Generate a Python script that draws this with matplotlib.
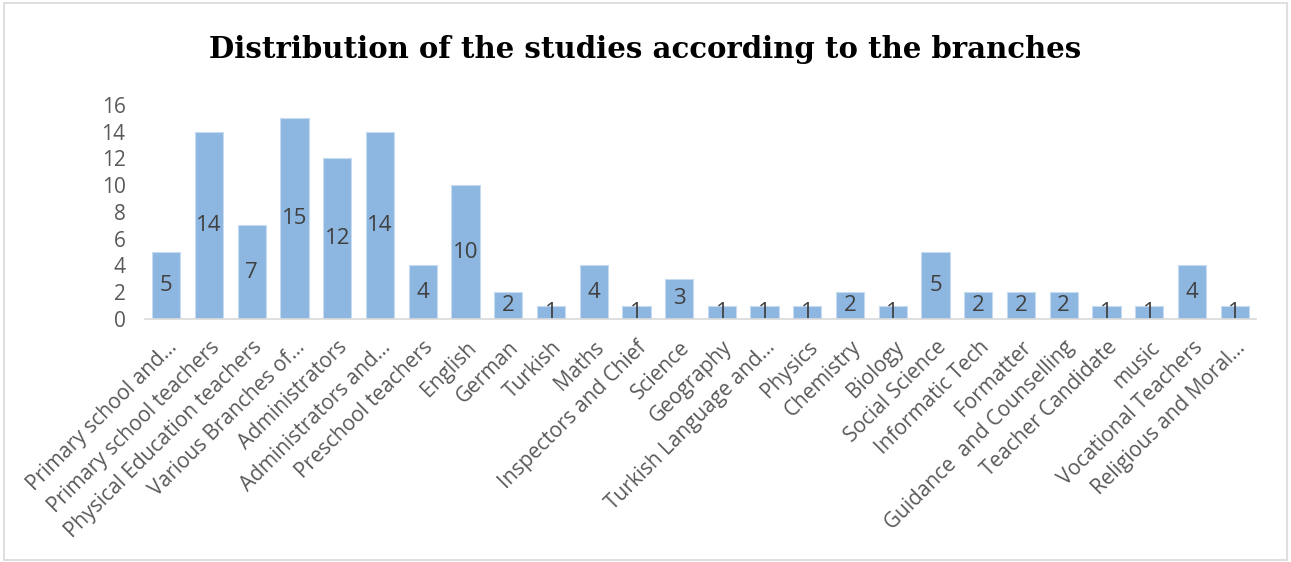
import matplotlib.pyplot as plt
from matplotlib.patches import Rectangle

branches = ["Primary school and...", "Primary school teachers", "Physical Education teachers",
            "Various Branches of...", "Administrators", "Administrators and...",
            "Preschool teachers", "English", "German", "Turkish", "Maths",
            "Inspectors and Chief", "Science", "Geography", "Turkish Language and...",
            "Physics", "Chemistry", "Biology", "Social Science", "Informatic Tech",
            "Formatter", "Guidance  and Counselling", "Teacher Candidate", "music",
            "Vocational Teachers", "Religious and Moral..."]
counts = [5, 14, 7, 15, 12, 14, 4, 10, 2, 1, 4, 1, 3, 1, 1, 1, 2, 1, 5, 2, 2, 2, 1, 1, 4, 1]
yticks = [0, 2, 4, 6, 8, 10, 12, 14, 16]

fig = plt.figure(figsize=(12.91, 5.62), dpi=100)
ax = fig.add_axes([0.1123, 0.4324, 0.8606, 0.3808])

x = range(len(branches))
bars = ax.bar(x, counts, width=0.66, color="#8DB6E1", edgecolor="#C6DBF0", linewidth=0.8)

for b, v in zip(bars, counts):
    ax.text(b.get_x() + b.get_width() / 2, v / 2, str(v), ha="center", va="center",
            fontsize=16, color="#404040", family="Open Sans")

ax.set_xlim(-0.5, len(branches) - 0.5)
ax.set_ylim(0, 16)
ax.set_yticks(yticks)
ax.set_xticks(list(x))
ax.set_xticklabels(branches, rotation=45, ha="right", va="top", rotation_mode="anchor",
                   fontsize=15, color="#595959", family="Open Sans")
for lab in ax.get_yticklabels():
    lab.set_fontsize(15)
    lab.set_color("#595959")
    lab.set_family("Open Sans")

ax.tick_params(axis="both", length=0)
ax.tick_params(axis="y", pad=14)
ax.tick_params(axis="x", pad=13)
for s in ["top", "right", "left"]:
    ax.spines[s].set_visible(False)
ax.spines["bottom"].set_color("#D9D9D9")
ax.spines["bottom"].set_linewidth(1.2)

fig.text(0.5, 0.912, "Distribution of the studies according to the branches", ha="center",
         va="center", fontsize=21, fontweight="bold", family="DejaVu Serif", color="#000000")

fig.patches.append(Rectangle((0.003, 0.004), 0.994, 0.99, transform=fig.transFigure,
                             fill=False, edgecolor="#D9D9D9", linewidth=1.2))

fig.savefig("out.png", dpi=100)
